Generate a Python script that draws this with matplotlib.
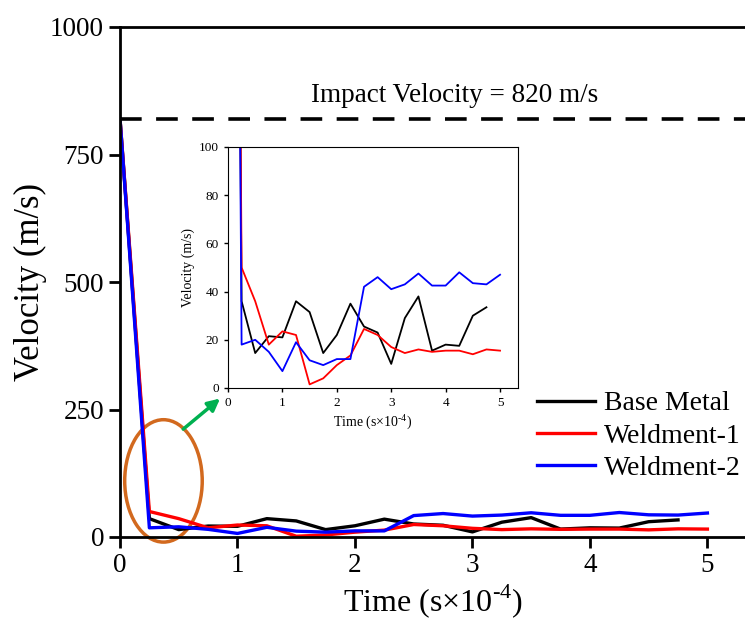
import matplotlib.pyplot as plt
from matplotlib.patches import Ellipse

plt.rcParams["font.family"] = ["Liberation Serif", "DejaVu Serif"]
plt.rcParams["mathtext.fontset"] = "custom"
plt.rcParams["mathtext.rm"] = "Liberation Serif"

time = [0, 0.25, 0.5, 0.75, 1.0, 1.25, 1.5, 1.75, 2.0, 2.25, 2.5, 2.75,
        3.0, 3.25, 3.5, 3.75, 4.0, 4.25, 4.5, 4.75, 5.0]
base_metal = [820, 36, 14.5, 21.5, 21, 36, 31.5, 14.5, 22, 35, 25.5, 23,
              10, 29, 38, 15.5, 18, 17.5, 30, 33.5]
weldment1 = [820, 50, 36, 18, 23.5, 22, 1.5, 4, 9.5, 13.5, 24.5, 22,
             17, 14.5, 16, 15, 15.5, 15.5, 14, 16, 15.5]
weldment2 = [820, 18, 20, 15, 7, 19, 11.5, 9.5, 12, 12, 42, 46,
             41, 43, 47.5, 42.5, 42.5, 48, 43.5, 43, 47]
labels = ["Base Metal", "Weldment-1", "Weldment-2"]
colors = ["black", "#ff0000", "#0000ff"]
impact_velocity = 820

series = [base_metal, weldment1, weldment2]
time_label = "Time (s×10$^{\\text{-4}}$)"

fig = plt.figure(figsize=(7.45, 6.21), dpi=100)
ax = fig.add_axes([120 / 745, 84 / 621, 625 / 745, 510 / 621])

for vals, lab, c in zip(series, labels, colors):
    ax.plot(time[:len(vals)], vals, color=c, lw=2.4, label=lab)

ax.axhline(impact_velocity, color="black", lw=2.6, ls=(0, (6, 4)))
ax.text(2.85, impact_velocity + 22, "Impact Velocity = 820 m/s",
        ha="center", va="bottom", fontsize=19.5)

ax.add_patch(Ellipse((0.37, 110), 0.66, 240, fill=False,
                     edgecolor="#D2691E", lw=2.5, clip_on=False))
ax.annotate("", xy=(0.87, 275), xytext=(0.52, 208),
            arrowprops=dict(arrowstyle="-|>", color="#00B050", lw=2.5,
                            mutation_scale=18))

ax.set_xlim(0, 5.32)
ax.set_ylim(0, 1000)
ax.set_xticks([0, 1, 2, 3, 4, 5])
ax.set_yticks([0, 250, 500, 750, 1000])
ax.spines["right"].set_visible(False)
for s in ["left", "bottom", "top"]:
    ax.spines[s].set_linewidth(2)
ax.tick_params(direction="out", length=8, width=2, labelsize=19.5)
ax.set_xlabel(time_label, fontsize=23, labelpad=3)
ax.set_ylabel("Velocity (m/s)", fontsize=25, labelpad=2)

ax.legend(loc="center left", bbox_to_anchor=(0.667, 0.198), frameon=False,
          fontsize=20, handlelength=2.1, handletextpad=0.3, labelspacing=0.25,
          borderaxespad=0, borderpad=0)

ins = fig.add_axes([228 / 745, 233 / 621, 290 / 745, 241 / 621])
for vals, c in zip(series, colors):
    ins.plot(time[:len(vals)], vals, color=c, lw=1.3)
ins.set_xlim(0, 5.33)
ins.set_ylim(0, 100)
ins.set_xticks([0, 1, 2, 3, 4, 5])
ins.set_yticks([0, 20, 40, 60, 80, 100])
ins.tick_params(direction="out", length=3, width=1, labelsize=9.5)
ins.set_xlabel(time_label, fontsize=10, labelpad=2)
ins.set_ylabel("Velocity (m/s)", fontsize=10, labelpad=3)

fig.savefig("out.png", dpi=100)
